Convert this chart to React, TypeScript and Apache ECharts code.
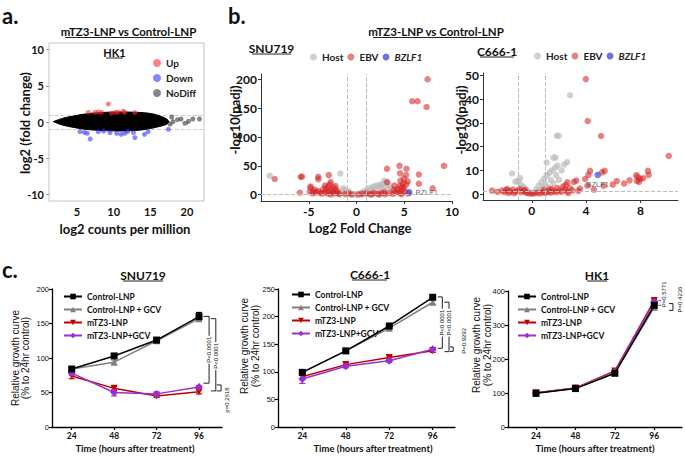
import React, { useEffect, useRef } from "react";
import * as echarts from "echarts";

// ---------- Panel a: MA plot (HK1) ----------
const maCloudX = [1.77, 2.45, 3.36, 4.73, 6.09, 7.91, 10.64, 13.37, 15.19, 16.32, 17.24, 17.55];
const maCloudUpper = [0.05, 0.32, 0.6, 0.87, 1.1, 1.29, 1.38, 1.33, 1.15, 0.83, 0.41, 0.05];
const maCloudLower = [0.05, -0.23, -0.51, -0.78, -1.01, -1.15, -1.24, -1.15, -0.87, -0.6, -0.32, 0.05];
const maUp = [[9.27, 2.48], [6.54, 1.33], [7.45, 1.33], [7.91, 1.38], [8.36, 1.33], [9.7, 1.22], [10.2, 1.33], [10.6, 1.36], [11.3, 1.5], [11.5, 1.33], [12.9, 1.3]];
const maDown = [[5.4, -1.33], [6.0, -1.43], [6.4, -1.56], [6.8, -2.35], [7.9, -1.33], [8.6, -1.24], [9.5, -1.47], [10.4, -1.56], [11.0, -1.7], [11.5, -1.56], [11.9, -1.33], [12.7, -1.47], [12.9, -2.16], [14.2, -1.7], [14.7, -1.33], [17.46, -1.01]];
const maNoDiff = [[17.92, 0.69], [18.1, 0.05], [18.7, 0.32], [19.19, 0.41], [19.7, -0.18], [20.8, 0.41], [21.7, 0.41], [17.7, -0.3], [20.2, 0.1]];
const maXTicks = [5, 10, 15, 20];
const maYTicks = [-10, -5, 0, 5, 10];
const maFoldLines = [1, -1];

// ---------- Panel b: volcano plots ----------
const snuHost = [[-9.09, 33], [-1.7, 36.8], [-1.5, 5], [-1.2, 8], [-1, 3], [-0.8, 6], [-0.6, 2], [-0.3, 1], [0, 0.5], [0.3, 2], [0.6, 4], [0.9, 7], [1.2, 10], [1.5, 12], [1.8, 14], [2.1, 16], [2.4, 17], [2.7, 18], [3, 20], [3.2, 22], [2.5, 12], [2, 9], [1.6, 6], [1.2, 4], [3.5, 15], [3.8, 10], [-2, 6], [-2.4, 4], [-1.8, 2], [-1.4, 11], [2.8, 10], [3.3, 12], [0.5, 1], [1.0, 3], [2.9, 24]];
const snuEbv = [[7.44, 200], [5.83, 162], [6.39, 162], [7.34, 152], [9.15, 50], [4.5, 50], [3.2, 45], [5.24, 45], [4.56, 37], [6.53, 35], [5.2, 34], [4.96, 28], [4.6, 24], [5.37, 23], [6.53, 19], [7.97, 11], [3.2, 21.5], [3.98, 15.7], [4.75, 14], [-8.56, 27.3], [-5.84, 30.7], [-5.7, 31.5], [-5.95, 3.5], [-4.0, 31], [-4.0, 27], [-2.9, 34], [-4.82, 14], [-4.4, 9], [-4.0, 6.3], [-3.5, 9.4], [-3.3, 16], [-4.8, 12], [-4.5, 5], [-4.2, 4], [-3.8, 3], [-3.6, 2], [-3.2, 10], [-3, 14], [-2.8, 18], [-2.7, 22], [-2.9, 6], [-2.6, 10], [-2.5, 5], [-2.3, 2], [-2.1, 8], [-2, 4], [-1.8, 1], [-3.3, 4], [-3.0, 2], [-2.4, 13], [-2.2, 15], [-1.2, 1], [-0.8, 2], [-0.5, 0.5], [0.2, 0.5], [0.6, 1.5], [1, 2], [1.4, 1], [1.8, 3], [2.2, 1.5], [2.6, 2.5], [3, 1], [3.4, 3], [3.8, 1.5], [4.1, 4], [4.4, 6], [4.6, 3], [4.8, 9], [5, 12], [5.1, 5], [4.3, 10], [3.9, 8], [5.2, 18], [4.9, 20], [5.4, 2], [4.7, 1], [4.5, 15], [2.9, 4], [2.4, 0.5], [1.6, 0.3], [-4.6, 2], [-2.7, 0.5], [-4.9, 5.2]];
const snuBzlf1 = [[5.52, 4]];
const c666Host = [[0.1, 0.5], [0.3, 2], [0.5, 3.5], [0.7, 5], [0.9, 6.5], [1.1, 8], [1.3, 9], [1.5, 10], [1.7, 11], [1.9, 12], [0.6, 1.5], [1, 4], [1.4, 6], [1.8, 8], [2.2, 10], [0.8, 2.5], [1.2, 3], [1.6, 4.5], [2, 6], [-0.2, 1], [-0.4, 2], [-0.6, 3], [-0.8, 4], [-1, 5.5], [-1.2, 5.3], [-0.5, 1], [1.6, 15.4], [1.75, 15.4], [1.1, 13.3], [1.84, 24.6], [1.99, 24.6], [2.82, 41.6], [-1.45, 8.7], [-0.86, 6.8], [2.4, 12.5], [2.6, 13.5]];
const c666Ebv = [[3.98, 48.4], [4.12, 30.8], [5.1, 24.5], [10.09, 16.1], [5.37, 9.8], [5.18, 9.2], [4.29, 9.8], [4.17, 8.1], [8.56, 9.8], [8.6, 8.1], [7.7, 8], [7.8, 7.3], [8.0, 6.5], [7.75, 5.6], [8.2, 6.7], [7.9, 5.2], [3.93, 6.4], [3.28, 5.7], [3.1, 5.2], [2.62, 5], [6.26, 5.5], [5.96, 4], [5.3, 3.6], [4.1, 3.6], [4.57, 1.9], [3.56, 2.4], [3.43, 1.4], [-2.92, 1.5], [-2.53, 1], [6.8, 4.5], [7.2, 5.8], [-2.2, 1.5], [-1.9, 1.8], [-1.6, 1.2], [-1.4, 2], [-1.2, 1], [-1, 1.6], [-0.8, 0.8], [-0.6, 1.4], [-0.4, 0.5], [-0.2, 0.3], [0, 0.2], [0.2, 0.4], [0.4, 0.6], [0.6, 0.3], [0.8, 0.8], [1, 0.5], [1.2, 1], [1.4, 0.6], [1.6, 1.2], [1.8, 0.8], [2, 1.4], [2.2, 1.0], [2.4, 2], [2.6, 1.2], [2.8, 2.6], [3, 1.6], [2.7, 0.5], [-2, 0.8], [-1.7, 0.5], [-1.3, 0.4], [1.5, 2.2], [2.3, 3.2], [1.9, 2.6], [2.5, 3.8], [-0.9, 2.2], [-1.8, 2.2], [-0.5, 1.8], [0.9, 1.8], [1.3, 2.0]];
const c666Bzlf1 = [[4.86, 8.1]];
const snuVolXTicks = [-5, 0, 5, 10];
const snuVolYTicks = [0, 50, 100, 150, 200];
const c666VolXTicks = [0, 4, 8];
const c666VolYTicks = [0, 10, 20, 30, 40, 50];

// ---------- Panel c: growth curves ----------
const timePoints = [24, 48, 72, 96];
const growthNames = ["Control-LNP", "Control-LNP + GCV", "mTZ3-LNP", "mTZ3-LNP+GCV"];
const snuControl = [84, 103, 126, 160];
const snuControlErr = [3, 3, 2, 6];
const snuControlGcv = [84, 94, 125, 157];
const snuControlGcvErr = [2, 3, 2, 4];
const snuMtz3 = [74, 56, 45, 51];
const snuMtz3Err = [4, 3, 2, 3];
const snuMtz3Gcv = [78, 50, 48, 58];
const snuMtz3GcvErr = [3, 5, 3, 2];
const c666Control = [99, 138, 183, 235];
const c666ControlErr = [3, 2, 3, 3];
const c666ControlGcv = [99, 138, 179, 226];
const c666ControlGcvErr = [2, 2, 3, 4];
const c666Mtz3 = [91, 113, 126, 138];
const c666Mtz3Err = [3, 3, 3, 3];
const c666Mtz3Gcv = [87, 110, 120, 141];
const c666Mtz3GcvErr = [8, 3, 3, 3];
const hk1Control = [99, 113, 158, 358];
const hk1ControlErr = [3, 3, 4, 10];
const hk1ControlGcv = [100, 114, 160, 352];
const hk1ControlGcvErr = [2, 2, 3, 8];
const hk1Mtz3 = [101, 115, 165, 372];
const hk1Mtz3Err = [2, 2, 3, 4];
const hk1Mtz3Gcv = [100, 114, 162, 368];
const hk1Mtz3GcvErr = [2, 2, 3, 4];

// significance brackets: [xLeft, xRight, yTop, yBottom]
const snuBrackets = [[98.5, 101.7, 160.3, 63.5], [102.8, 105.5, 157, 52.3], [106, 108.5, 61, 52.3]];
const snuBracketLabels = ["P<0.0001", "P<0.0001", "p=0.2618"];
const snuBracketLabelAt = [[101.7, 112], [105.5, 103], [111.7, 39]];
const c666Brackets = [[98.8, 101.3, 235.7, 142.6], [102.5, 105, 226, 136.5], [105.5, 107.3, 145, 137]];
const c666BracketLabels = ["P<0.0001", "P<0.0001", "P=0.9292"];
const c666BracketLabelAt = [[101.3, 189], [105, 189], [113.5, 156]];
const hk1Brackets = [[98.3, 100.3, 372, 358], [105, 107.4, 363, 343]];
const hk1BracketLabels = ["P=0.5771", "P=0.4236"];
const hk1BracketLabelAt = [[101.9, 390], [111.7, 375]];

const growthColors = ["#000000", "#808080", "#c00000", "#9b30d0"];
const growthSymbols = ["rect", "triangle", "triangle", "diamond"];
const growthRotate = [0, 0, 180, 0];

const FONT = "Lato";
const ARIAL = "Liberation Sans";

function buildOption() {
  const series: any[] = [];

  // Panel a
  series.push({
    name: "foldLines", type: "scatter", xAxisIndex: 0, yAxisIndex: 0, data: [], z: 1, silent: true,
    markLine: {
      silent: true, symbol: "none", label: { show: false }, z: 1,
      lineStyle: { type: "dashed", color: "#cfcfcf", width: 1 },
      data: maFoldLines.map((v) => ({ yAxis: v })),
    },
  });
  series.push({
    type: "custom",
    xAxisIndex: 0,
    yAxisIndex: 0,
    silent: true,
    data: [[maCloudX[0], 0]],
    encode: { x: 0, y: 1 },
    renderItem: (params: any, api: any) => {
      const pts: number[][] = [];
      for (let i = 0; i < maCloudX.length; i++) pts.push(api.coord([maCloudX[i], maCloudUpper[i]]));
      for (let i = maCloudX.length - 1; i >= 0; i--) pts.push(api.coord([maCloudX[i], maCloudLower[i]]));
      return { type: "polygon", shape: { points: pts, smooth: 0.35 }, style: { fill: "#000", stroke: "#000", lineWidth: 1 } };
    },
    z: 2,
  });
  const maScatter = (name: string, data: number[][], color: string) => ({
    name, type: "scatter", xAxisIndex: 0, yAxisIndex: 0, data, symbolSize: 5,
    itemStyle: { color }, z: 3,
  });
  series.push(maScatter("Up", maUp, "rgba(255,35,35,0.72)"));
  series.push(maScatter("Down", maDown, "rgba(45,45,255,0.72)"));
  series.push(maScatter("NoDiff", maNoDiff, "rgba(40,40,40,0.7)"));

  // Panel b
  const volMark = {
    silent: true, symbol: "none", label: { show: false },
    lineStyle: { type: "dashed", color: "#bdbdbd", width: 1 },
    data: [{ xAxis: -1 }, { xAxis: 1 }, { yAxis: 1.3 }],
  };
  const volScatter = (name: string, idx: number, data: number[][], color: string, extra: any = {}) => ({
    name, type: "scatter", xAxisIndex: idx, yAxisIndex: idx, data, symbolSize: 6.5,
    itemStyle: { color }, ...extra,
  });
  series.push(volScatter("Host", 1, snuHost, "rgba(185,185,185,0.85)", { markLine: volMark, z: 2 }));
  series.push(volScatter("EBV", 1, snuEbv, "rgba(214,30,30,0.7)", { z: 3 }));
  series.push(volScatter("BZLF1", 1, snuBzlf1, "#4f4fd6", {
    z: 4,
    label: { show: true, position: "right", distance: 3, formatter: "BZLF1", fontSize: 7.5, color: "#2b3a55", fontFamily: ARIAL },
  }));
  series.push(volScatter("Host", 2, c666Host, "rgba(185,185,185,0.85)", { markLine: volMark, z: 2 }));
  series.push(volScatter("EBV", 2, c666Ebv, "rgba(214,30,30,0.7)", { z: 3 }));
  series.push(volScatter("BZLF1", 2, c666Bzlf1, "#5a5ae0", {
    z: 4,
    label: { show: true, position: "bottom", distance: 2, formatter: "BZLF1", fontSize: 7.5, color: "#2b3a55", fontFamily: ARIAL },
  }));

  // Panel c
  const panels = [
    { idx: 3, sets: [[snuControl, snuControlErr], [snuControlGcv, snuControlGcvErr], [snuMtz3, snuMtz3Err], [snuMtz3Gcv, snuMtz3GcvErr]], br: snuBrackets, bl: snuBracketLabels, bp: snuBracketLabelAt, bc: ["#222", "#222", "#222"] },
    { idx: 4, sets: [[c666Control, c666ControlErr], [c666ControlGcv, c666ControlGcvErr], [c666Mtz3, c666Mtz3Err], [c666Mtz3Gcv, c666Mtz3GcvErr]], br: c666Brackets, bl: c666BracketLabels, bp: c666BracketLabelAt, bc: ["#222", "#222", "#222"] },
    { idx: 5, sets: [[hk1Control, hk1ControlErr], [hk1ControlGcv, hk1ControlGcvErr], [hk1Mtz3, hk1Mtz3Err], [hk1Mtz3Gcv, hk1Mtz3GcvErr]], br: hk1Brackets, bl: hk1BracketLabels, bp: hk1BracketLabelAt, bc: ["#3f6fd0", "#222"] },
  ];
  const drawOrder = [2, 3, 1, 0];
  panels.forEach((p) => {
    const errData: number[][] = [];
    p.sets.forEach((s, si) => {
      timePoints.forEach((t, ti) => errData.push([t, s[0][ti], s[1][ti], si]));
    });
    series.push({
      name: "err" + p.idx, type: "custom", xAxisIndex: p.idx, yAxisIndex: p.idx, silent: true, z: 2,
      data: errData, encode: { x: 0, y: 1 },
      renderItem: (params: any, api: any) => {
        const x = api.value(0), m = api.value(1), e = api.value(2), c = api.value(3);
        const top = api.coord([x, m + e]);
        const bot = api.coord([x, m - e]);
        const col = growthColors[c];
        return {
          type: "group",
          children: [
            { type: "line", shape: { x1: top[0], y1: top[1], x2: bot[0], y2: bot[1] }, style: { stroke: col, lineWidth: 1.2 } },
            { type: "line", shape: { x1: top[0] - 3, y1: top[1], x2: top[0] + 3, y2: top[1] }, style: { stroke: col, lineWidth: 1.2 } },
            { type: "line", shape: { x1: bot[0] - 3, y1: bot[1], x2: bot[0] + 3, y2: bot[1] }, style: { stroke: col, lineWidth: 1.2 } },
          ],
        };
      },
    });
    drawOrder.forEach((si) => {
      series.push({
        name: growthNames[si], type: "line", xAxisIndex: p.idx, yAxisIndex: p.idx,
        data: timePoints.map((t, ti) => [t, p.sets[si][0][ti]]),
        symbol: growthSymbols[si], symbolRotate: growthRotate[si], symbolSize: si === 3 ? 8 : 7,
        lineStyle: { color: growthColors[si], width: 1.5 },
        itemStyle: { color: growthColors[si] },
        z: 3 + (si === 0 ? 2 : si === 1 ? 1 : 0),
      });
    });
    const labels = p.bl, labelAt = p.bp, cols = p.bc;
    series.push({
      name: "br" + p.idx, type: "custom", xAxisIndex: p.idx, yAxisIndex: p.idx, silent: true, z: 6,
      data: p.br, encode: { x: 0, y: 2 },
      renderItem: (params: any, api: any) => {
        const xl = api.value(0), xr = api.value(1), y1 = api.value(2), y2 = api.value(3);
        const a = api.coord([xl, y1]), b = api.coord([xr, y1]), c = api.coord([xr, y2]), d = api.coord([xl, y2]);
        const lp = api.coord(labelAt[params.dataIndex]);
        const col = cols[params.dataIndex];
        return {
          type: "group",
          children: [
            { type: "polyline", shape: { points: [a, b, c, d] }, style: { stroke: col, lineWidth: 1, fill: null } },
            {
              type: "text", x: lp[0], y: lp[1], rotation: Math.PI / 2,
              style: { text: labels[params.dataIndex], fontSize: 6, fontFamily: ARIAL, fill: "#111", align: "center", verticalAlign: "middle", backgroundColor: "#fff", padding: [0, 1] },
            },
          ],
        };
      },
    });
  });

  const mkAxis = (gi: number, min: number, max: number, ticks: number[] | null, interval: number | null, lab: any, line: any, tick: any) => ({
    gridIndex: gi, type: "value", min, max,
    ...(interval ? { interval } : {}),
    splitLine: { show: false },
    axisLine: line,
    axisTick: ticks ? { ...tick, customValues: ticks } : tick,
    axisLabel: ticks ? { ...lab, customValues: ticks } : lab,
  });

  const labA = { fontSize: 11, fontWeight: "bold", color: "#111", fontFamily: FONT, margin: 5 };
  const lineA = { show: false };
  const tickA = { show: true, length: 3, lineStyle: { color: "#999" } };
  const labB = { fontSize: 12, fontWeight: "bold", color: "#111", fontFamily: FONT, margin: 4 };
  const lineB = { show: true, onZero: false, lineStyle: { color: "#333", width: 1 } };
  const tickB = { show: true, length: 3, lineStyle: { color: "#333" } };
  const labCy = { fontSize: 7.5, color: "#111", fontFamily: ARIAL, margin: 3 };
  const labCx = { fontSize: 8.5, fontWeight: "bold", color: "#111", fontFamily: FONT, margin: 4 };
  const lineC = { show: true, onZero: false, lineStyle: { color: "#000", width: 1.3 } };
  const tickC = { show: true, length: 3, lineStyle: { color: "#000", width: 1.2 } };

  const xAxis = [
    mkAxis(0, 1.18, 22.32, maXTicks, null, labA, lineA, tickA),
    mkAxis(1, -10, 10, snuVolXTicks, null, labB, lineB, tickB),
    mkAxis(2, -3.59, 10.77, c666VolXTicks, null, labB, lineB, tickB),
    mkAxis(3, 12.85, 109, timePoints, null, labCx, lineC, tickC),
    mkAxis(4, 10.57, 108.3, timePoints, null, labCx, lineC, tickC),
    mkAxis(5, 6.95, 112.9, timePoints, null, labCx, lineC, tickC),
  ];
  const yAxis = [
    mkAxis(0, -10.9, 10.9, maYTicks, null, labA, lineA, tickA),
    mkAxis(1, -10.9, 209.2, snuVolYTicks, null, labB, lineB, tickB),
    mkAxis(2, -2.44, 50.97, c666VolYTicks, null, labB, lineB, tickB),
    mkAxis(3, 0, 200, null, 50, labCy, lineC, tickC),
    mkAxis(4, 0, 250, null, 50, labCy, lineC, tickC),
    mkAxis(5, 0, 400, null, 100, labCy, lineC, tickC),
  ];

  const gridBase = { outerBoundsMode: "none", containLabel: false };
  const grid = [
    { ...gridBase, left: 49, top: 43, width: 155, height: 158, show: true, borderColor: "#c4c4c4", borderWidth: 1, backgroundColor: "transparent" },
    { ...gridBase, left: 261, top: 74, width: 191, height: 127 },
    { ...gridBase, left: 483, top: 73, width: 195, height: 127 },
    { ...gridBase, left: 52, top: 289, width: 170, height: 138 },
    { ...gridBase, left: 278, top: 289, width: 177, height: 138 },
    { ...gridBase, left: 508, top: 291, width: 174, height: 136 },
  ];

  const legendBase = { selectedMode: false, itemGap: 4, icon: "circle", itemWidth: 7, itemHeight: 7, padding: 0 };
  const volLegendText = { fontSize: 10, fontWeight: "bold", color: "#222", fontFamily: FONT, rich: { it: { fontSize: 10, fontWeight: "bold", fontStyle: "italic", color: "#222", fontFamily: FONT } } };
  const volFormatter = (n: string) => (n === "BZLF1" ? "{it|BZLF1}" : n);
  const growthLegend = (left: number, top: number) => ({
    selectedMode: false, orient: "vertical", left, top, itemGap: 4, itemWidth: 18, itemHeight: 7, padding: 0,
    data: growthNames, textStyle: { fontSize: 8.5, fontWeight: "bold", color: "#111", fontFamily: FONT },
  });
  const legend = [
    { ...legendBase, orient: "vertical", left: 153, top: 58, itemGap: 5, itemWidth: 8, itemHeight: 8, data: ["Up", "Down", "NoDiff"], textStyle: { fontSize: 10, fontWeight: "bold", color: "#222", fontFamily: FONT } },
    { ...legendBase, orient: "horizontal", left: 310, top: 52, data: ["Host", "EBV", "BZLF1"], formatter: volFormatter, textStyle: volLegendText },
    { ...legendBase, orient: "horizontal", left: 534, top: 51, data: ["Host", "EBV", "BZLF1"], formatter: volFormatter, textStyle: volLegendText },
    growthLegend(63, 292),
    growthLegend(291, 290),
    growthLegend(517, 292),
  ];

  const txt = (text: string, x: number, y: number, size: number, weight: string = "bold", family: string = FONT, rot: number = 0, align: string = "center") => ({
    type: "text", x, y, rotation: rot, silent: true,
    style: { text, fontSize: size, fontWeight: weight, fontFamily: family, fill: "#111", align, verticalAlign: "middle", textAlign: align, textVerticalAlign: "middle" },
  });
  const uline = (x1: number, x2: number, y: number) => ({
    type: "line", silent: true, shape: { x1, y1: y, x2, y2: y }, style: { stroke: "#222", lineWidth: 1 },
  });
  const graphic = [
    txt("a.", 2, 15, 22, "bold", FONT, 0, "left"),
    txt("b.", 228, 15, 22, "bold", FONT, 0, "left"),
    txt("c.", 2, 269, 22, "bold", FONT, 0, "left"),
    txt("mTZ3-LNP vs Control-LNP", 128.5, 31, 11.5),
    uline(65, 192, 37.5),
    txt("mTZ3-LNP vs Control-LNP", 436, 31, 11.5),
    uline(373, 499, 37.5),
    txt("HK1", 114.5, 52, 11),
    uline(106, 123, 58),
    txt("SNU719", 271.5, 48, 12),
    uline(252, 291, 54),
    txt("C666-1", 497, 51, 12),
    uline(480, 514, 57),
    txt("log2 (fold change)", 25, 123, 13, "bold", FONT, Math.PI / 2),
    txt("log2 counts per million", 125, 229, 13, "bold"),
    txt("-log10(padj)", 235, 120, 13, "bold", FONT, Math.PI / 2),
    txt("-log10(padj)", 461, 120, 13, "bold", FONT, Math.PI / 2),
    txt("Log2 Fold Change", 360, 228, 13, "bold"),
    txt("SNU719", 143, 275, 12),
    uline(123, 163, 281),
    txt("C666-1", 370, 274, 12),
    uline(352, 387, 280),
    txt("HK1", 597, 275, 12),
    uline(587, 607, 281),
    txt("Relative growth curve", 15, 358, 10, "normal", ARIAL, Math.PI / 2),
    txt("(% to 24hr control)", 25.5, 358, 10, "normal", ARIAL, Math.PI / 2),
    txt("Relative growth curve", 244, 346, 10, "normal", ARIAL, Math.PI / 2),
    txt("(% to 24hr control)", 255, 346, 10, "normal", ARIAL, Math.PI / 2),
    txt("Relative growth curve", 476, 345, 10, "normal", ARIAL, Math.PI / 2),
    txt("(% to 24hr control)", 487, 345, 10, "normal", ARIAL, Math.PI / 2),
    txt("Time (hours after treatment)", 135, 448, 9.5, "bold"),
    txt("Time (hours after treatment)", 373, 448, 9.5, "bold"),
    txt("Time (hours after treatment)", 595, 448, 9.5, "bold"),
  ];

  return {
    animation: false,
    backgroundColor: "#fff",
    textStyle: { fontFamily: FONT },
    grid, xAxis, yAxis, legend, series, graphic,
  };
}

export default function App() {
  const ref = useRef<HTMLDivElement>(null);
  useEffect(() => {
    if (!ref.current) return;
    const chart = echarts.init(ref.current, null, { renderer: "svg" });
    chart.setOption(buildOption() as any);
    return () => chart.dispose();
  }, []);
  return <div ref={ref} style={{ position: "absolute", left: 0, top: 0, width: 685, height: 456, background: "#fff" }} />;
}
